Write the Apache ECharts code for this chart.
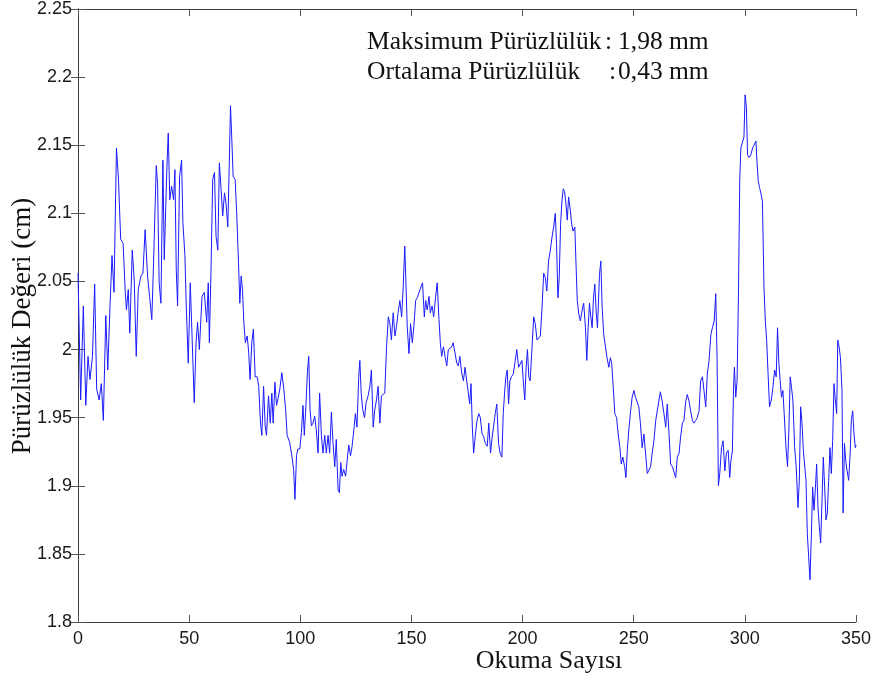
<!DOCTYPE html>
<html>
<head>
<meta charset="utf-8">
<script src="https://cdn.jsdelivr.net/npm/echarts@6/dist/echarts.min.js"></script>
<style>
  html, body { margin: 0; padding: 0; background: #fff; }
  #chart { width: 877px; height: 683px; }
</style>
</head>
<body>
<div id="chart"></div>
<script>
// Reading number of each roughness measurement
const readingNo = [
  0, 1.2, 2.4, 3.5, 4.5, 5.4, 6.5, 7.5, 8.4, 9.5,
  10.5, 11.4, 12.5, 13.4, 14.4, 15.3, 16.2, 17.3, 18.2, 19.2,
  20.3, 21.2, 21.8, 22.6, 23.3, 24.4, 25.3, 26.2, 27.1, 28.3,
  29.2, 30.2, 31.3, 32.2, 33.2, 34, 35.2, 35.8, 36.5, 37.3,
  38.2, 38.8, 40, 40.6, 41.3, 42.1, 43, 43.6, 44.2, 44.8,
  45.7, 46.6, 47.2, 48.1, 48.7, 49.6, 50.5, 51.1, 52.3, 53.1,
  53.8, 54.6, 55.8, 56.8, 57.9, 58.6, 59.1, 59.8, 60.6, 61.4,
  62.1, 62.9, 63.6, 64.4, 65.1, 65.9, 66.6, 67.4, 68, 68.6,
  69.2, 69.8, 70.7, 71.4, 72.2, 72.8, 73.4, 74, 74.6, 75.3,
  76.1, 76.8, 77.4, 78.2, 78.9, 79.7, 80.6, 81.3, 82.1, 82.7,
  83.5, 84.2, 84.8, 85.7, 86.5, 87.2, 87.8, 88.6, 89.3, 90,
  90.8, 91.7, 92.6, 93.4, 94.1, 95.2, 96.2, 97, 97.6, 98.3,
  98.9, 99.8, 100.5, 101.2, 101.8, 102.6, 103.2, 103.8, 104.4, 105,
  105.7, 106.5, 107.2, 108, 108.7, 109.5, 110.2, 111, 111.7, 112.5,
  113.2, 114, 114.7, 115.5, 116.2, 117, 117.6, 118.2, 118.8, 119.5,
  120.4, 121.1, 121.8, 122.6, 123.3, 124.1, 124.8, 125.5, 126.3, 126.8,
  127.4, 128.1, 128.9, 129.6, 130.5, 131.3, 132, 132.8, 133.5, 134.3,
  135, 135.8, 136.5, 137.3, 138, 138.8, 139.6, 140.3, 141, 141.8,
  142.6, 143.3, 144, 144.8, 145.6, 146.3, 147, 147.5, 148.1, 148.9,
  149.6, 150.4, 151.1, 151.9, 152.6, 153.4, 154.3, 155, 155.8, 156.4,
  157.1, 157.9, 158.5, 159.3, 160, 160.9, 161.6, 162.4, 163, 163.6,
  164.4, 165.1, 165.9, 166.6, 167.4, 168.1, 168.8, 169.6, 170.4, 171.1,
  171.8, 172.6, 173.4, 174.1, 174.9, 175.6, 176.2, 176.8, 177.4, 178,
  178.8, 179.5, 180.3, 181, 181.8, 182.5, 183.3, 184.1, 184.8, 185.6,
  186.2, 186.9, 187.7, 188.4, 189.2, 189.9, 190.7, 191.3, 191.9, 192.5,
  193.1, 193.7, 194.3, 195, 195.8, 196.7, 197.4, 198.2, 198.9, 199.7,
  200.3, 201, 201.6, 202.2, 202.8, 203.4, 204.2, 205, 205.7, 206.5,
  207.2, 208, 208.7, 209.5, 210.2, 210.9, 211.7, 212.5, 213.2, 214,
  214.7, 215.3, 215.9, 216.5, 217.1, 217.7, 218.3, 218.9, 219.5, 220.1,
  220.7, 221.5, 222.1, 222.7, 223.5, 224.1, 224.6, 225.3, 226, 226.8,
  227.5, 228.3, 228.9, 229.5, 230.1, 230.7, 231.3, 231.9, 232.5, 233.1,
  233.7, 234.6, 235.2, 235.8, 236.5, 237.3, 238, 238.8, 239.5, 240.1,
  240.8, 241.5, 242.3, 243, 243.8, 244.4, 245.1, 245.9, 246.5, 247.1,
  247.8, 248.6, 249.3, 250.1, 250.8, 251.6, 252.3, 253, 253.8, 254.6,
  255.3, 256.1, 256.8, 257.6, 258.3, 259.1, 259.9, 260.6, 261.3, 262,
  262.8, 263.6, 264.4, 265.1, 265.9, 266.6, 267.4, 268.1, 268.9, 269.6,
  270.4, 271.1, 271.9, 272.6, 273.4, 274.1, 274.9, 275.6, 276.4, 277.1,
  277.9, 278.6, 279.4, 280.1, 280.9, 281.6, 282.4, 283.1, 283.9, 284.7,
  285.4, 286.2, 286.9, 287.5, 288.1, 288.7, 289.5, 290.2, 291, 291.7,
  292.5, 293.2, 293.7, 294.4, 294.9, 295.3, 295.9, 296.5, 297.1, 297.7,
  298.2, 299, 299.6, 300.1, 300.7, 301.2, 301.9, 302.7, 303.5, 304.2,
  305, 305.4, 306, 306.6, 307.3, 307.9, 308.6, 309.2, 309.8, 310.5,
  311.1, 311.9, 312.6, 313.4, 314.1, 314.7, 315.3, 315.9, 316.5, 317.1,
  317.7, 318.5, 319.2, 319.8, 320.4, 321, 321.6, 322.4, 323.1, 323.9,
  324.5, 325.1, 325.7, 326.3, 326.9, 327.5, 328.1, 328.7, 329.3, 329.9,
  330.5, 331.1, 331.7, 332.3, 332.9, 333.5, 334.1, 334.7, 335.3, 335.9,
  336.5, 337.1, 337.7, 338.3, 338.9, 339.5, 340.1, 340.7, 341.3, 341.8,
  342.4, 343, 343.7, 344.2, 344.8, 345.4, 346, 346.7, 347.3, 347.9,
  348.5, 349.1, 349.7, 350
];

// Measured roughness value (cm) for each reading
const roughnessCm = [
  2.056, 1.963, 2.032, 1.959, 1.995, 1.978, 1.995, 2.048, 1.971, 1.963,
  1.975, 1.948, 2.025, 1.985, 2.032, 2.069, 2.042, 2.148, 2.125, 2.081,
  2.078, 2.044, 2.029, 2.044, 2.012, 2.073, 2.051, 1.995, 2.044, 2.054,
  2.056, 2.088, 2.054, 2.039, 2.022, 2.064, 2.135, 2.122, 2.049, 2.034,
  2.139, 2.066, 2.134, 2.159, 2.11, 2.12, 2.11, 2.132, 2.059, 2.032,
  2.127, 2.139, 2.093, 2.069, 2.032, 1.99, 2.049, 2.02, 1.961, 2.005,
  2.02, 2.0, 2.039, 2.042, 2.02, 2.049, 2.005, 2.056, 2.125, 2.13,
  2.083, 2.073, 2.137, 2.117, 2.098, 2.115, 2.107, 2.09, 2.132, 2.179,
  2.154, 2.127, 2.125, 2.1, 2.064, 2.034, 2.054, 2.044, 2.02, 2.005,
  2.01, 1.998, 1.978, 2.005, 2.015, 1.98, 1.98, 1.973, 1.946, 1.937,
  1.973, 1.944, 1.937, 1.966, 1.946, 1.968, 1.946, 1.976, 1.959, 1.964,
  1.971, 1.983, 1.971, 1.956, 1.937, 1.932, 1.922, 1.912, 1.89, 1.922,
  1.927, 1.927, 1.939, 1.959, 1.937, 1.961, 1.983, 1.995, 1.956, 1.944,
  1.946, 1.951, 1.941, 1.924, 1.968, 1.937, 1.924, 1.937, 1.924, 1.937,
  1.924, 1.954, 1.932, 1.914, 1.934, 1.897, 1.895, 1.917, 1.907, 1.912,
  1.907, 1.919, 1.93, 1.922, 1.929, 1.941, 1.953, 1.943, 1.98, 1.992,
  1.968, 1.956, 1.95, 1.961, 1.966, 1.973, 1.985, 1.943, 1.956, 1.963,
  1.973, 1.946, 1.966, 1.966, 1.968, 2.002, 2.024, 2.019, 2.007, 2.027,
  2.01, 2.017, 2.027, 2.036, 2.024, 2.046, 2.076, 2.051, 2.017, 1.997,
  2.019, 2.005, 2.017, 2.036, 2.038, 2.039, 2.046, 2.049, 2.024, 2.036,
  2.029, 2.039, 2.027, 2.032, 2.024, 2.039, 2.049, 2.022, 2.005, 1.995,
  2.002, 1.995, 1.988, 2.0, 2.001, 2.002, 2.005, 2.005, 1.99, 1.988,
  1.995, 1.983, 1.977, 1.987, 1.986, 1.968, 1.96, 1.975, 1.943, 1.924,
  1.938, 1.948, 1.953, 1.95, 1.938, 1.936, 1.931, 1.929, 1.946, 1.924,
  1.934, 1.943, 1.953, 1.96, 1.931, 1.924, 1.921, 1.953, 1.968, 1.98,
  1.985, 1.96, 1.977, 1.98, 1.982, 1.992, 2.0, 1.987, 1.987, 1.992,
  1.977, 1.963, 1.987, 2.0, 1.98, 1.977, 2.0, 2.024, 2.019, 2.007,
  2.007, 2.01, 2.029, 2.056, 2.053, 2.043, 2.065, 2.073, 2.082, 2.09,
  2.1, 2.077, 2.038, 2.053, 2.092, 2.109, 2.118, 2.116, 2.107, 2.095,
  2.112, 2.102, 2.092, 2.087, 2.09, 2.06, 2.036, 2.026, 2.021, 2.029,
  2.034, 2.016, 1.992, 2.016, 2.034, 2.024, 2.016, 2.038, 2.048, 2.028,
  2.016, 2.055, 2.065, 2.031, 2.011, 2.011, 1.994, 1.987, 1.994, 1.99,
  1.972, 1.953, 1.95, 1.938, 1.928, 1.916, 1.921, 1.914, 1.906, 1.926,
  1.941, 1.955, 1.965, 1.97, 1.965, 1.965, 1.958, 1.946, 1.928, 1.938,
  1.938, 1.909, 1.909, 1.914, 1.924, 1.933, 1.948, 1.955, 1.955, 1.969,
  1.962, 1.953, 1.943, 1.96, 1.938, 1.916, 1.914, 1.914, 1.906, 1.921,
  1.924, 1.936, 1.946, 1.948, 1.962, 1.967, 1.962, 1.955, 1.948, 1.946,
  1.948, 1.95, 1.955, 1.977, 1.98, 1.97, 1.958, 1.982, 1.992, 2.011,
  2.016, 2.021, 2.041, 1.994, 1.9, 1.909, 1.928, 1.933, 1.911, 1.924,
  1.926, 1.906, 1.918, 1.926, 1.972, 1.987, 1.965, 1.977, 2.038, 2.124,
  2.148, 2.148, 2.156, 2.187, 2.178, 2.143, 2.141, 2.143, 2.148, 2.148,
  2.153, 2.139, 2.124, 2.119, 2.114, 2.109, 2.046, 2.021, 2.007, 1.98,
  1.958, 1.963, 1.972, 1.985, 1.98, 2.016, 1.99, 1.977, 1.965, 1.97,
  1.953, 1.928, 1.914, 1.941, 1.98, 1.972, 1.963, 1.928, 1.914, 1.884,
  1.904, 1.958, 1.946, 1.926, 1.926, 1.904, 1.865, 1.848, 1.831, 1.863,
  1.899, 1.882, 1.897, 1.916, 1.884, 1.87, 1.858, 1.889, 1.921, 1.899,
  1.875, 1.88, 1.904, 1.928, 1.909, 1.933, 1.975, 1.963, 1.953, 2.007,
  2.002, 1.994, 1.97, 1.88, 1.931, 1.918, 1.911, 1.904, 1.921, 1.948,
  1.955, 1.938, 1.928, 1.93
];

// Axis ranges and tick steps
const xRange = [0, 350];
const xStep = 50;
const yRange = [1.8, 2.25];
const yStep = 0.05;

// Summary lines written inside the plot
const summaryLabels = ['Maksimum Pürüzlülük', 'Ortalama Pürüzlülük'];
const summaryValues = ['1,98 mm', '0,43 mm'];

const xTitle = 'Okuma Sayısı';
const yTitle = 'Pürüzlülük Değeri (cm)';

const points = readingNo.map((x, i) => [x, roughnessCm[i]]);

const boxLine = { show: true, lineStyle: { color: '#3c3c3c', width: 1 } };
const innerTick = { show: true, inside: true, length: 7, lineStyle: { color: '#555', width: 1 } };
const tickFont = { fontFamily: 'Liberation Sans, Arial, sans-serif', fontSize: 18, color: '#1a1a1a' };

const chart = echarts.init(document.getElementById('chart'), null, { renderer: 'canvas' });

const serif = 'Liberation Serif, "Times New Roman", serif';

function textEl(x, y, text, size, align, vAlign, extra) {
  return Object.assign({
    type: 'text', x: x, y: y, silent: true,
    style: {
      text: text, font: size + 'px ' + serif, fill: '#111',
      align: align, verticalAlign: vAlign,
      textAlign: align, textVerticalAlign: vAlign
    }
  }, extra || {});
}

chart.setOption({
  animation: false,
  backgroundColor: '#ffffff',
  grid: { left: 78, right: 21, top: 9, bottom: 61, containLabel: false },
  xAxis: [
    {
      type: 'value', position: 'bottom', min: xRange[0], max: xRange[1], interval: xStep,
      axisLine: boxLine, axisTick: innerTick,
      axisLabel: Object.assign({ margin: 8 }, tickFont),
      splitLine: { show: false }
    },
    {
      type: 'value', position: 'top', min: xRange[0], max: xRange[1], interval: xStep,
      axisLine: boxLine, axisTick: innerTick,
      axisLabel: { show: false }, splitLine: { show: false }
    }
  ],
  yAxis: [
    {
      type: 'value', position: 'left', min: yRange[0], max: yRange[1], interval: yStep,
      axisLine: boxLine, axisTick: innerTick,
      axisLabel: Object.assign({ margin: 6 }, tickFont),
      splitLine: { show: false }
    },
    {
      type: 'value', position: 'right', min: yRange[0], max: yRange[1], interval: yStep,
      axisLine: boxLine, axisTick: innerTick,
      axisLabel: { show: false }, splitLine: { show: false }
    }
  ],
  series: [
    {
      type: 'line',
      xAxisIndex: 0, yAxisIndex: 0,
      data: points,
      showSymbol: false,
      symbol: 'none',
      lineStyle: { color: '#1a1aff', width: 1 },
      silent: true
    }
  ],
  graphic: [
    textEl(367, 42, summaryLabels[0], 25.5, 'left', 'middle'),
    textEl(605, 42, ':', 25.5, 'left', 'middle'),
    textEl(618, 42, summaryValues[0], 25.5, 'left', 'middle'),
    textEl(367, 72, summaryLabels[1], 25.5, 'left', 'middle'),
    textEl(609, 72, ':', 25.5, 'left', 'middle'),
    textEl(618, 72, summaryValues[1], 25.5, 'left', 'middle'),
    textEl(549, 661, xTitle, 26, 'center', 'middle'),
    textEl(23, 326, yTitle, 27, 'center', 'middle', { rotation: Math.PI / 2 })
  ]
});
</script>
</body>
</html>
